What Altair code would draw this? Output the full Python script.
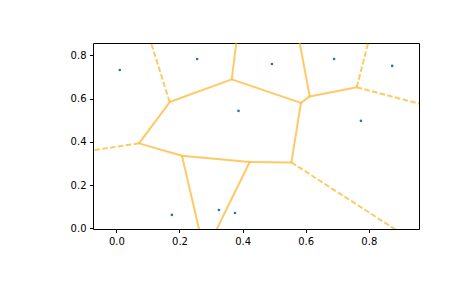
import altair as alt
import pandas as pd

# input points
px = [0.011, 0.256, 0.387, 0.176, 0.325, 0.376, 0.493, 0.690, 0.874, 0.775]
py = [0.732, 0.783, 0.543, 0.062, 0.085, 0.071, 0.760, 0.783, 0.751, 0.497]

# Voronoi vertices (J and K lie outside the view)
vname = ["A", "B", "C", "D", "E", "F", "G", "H", "I", "J", "K"]
vx = [0.169, 0.0717, 0.208, 0.3655, 0.4225, 0.5547, 0.585, 0.6127, 0.7617, 0.280, 0.461]
vy = [0.584, 0.393, 0.336, 0.689, 0.307, 0.305, 0.580, 0.610, 0.652, -0.117, 1.795]

# finite ridges
finite_edges = [("A", "B"), ("A", "D"), ("B", "C"), ("C", "E"), ("D", "G"),
                ("E", "F"), ("F", "G"), ("G", "H"), ("H", "I"), ("C", "J"),
                ("E", "J"), ("D", "K"), ("H", "K")]

# infinite ridges: start vertex and far end point
inf_start = ["A", "B", "I", "I", "F"]
inf_end_x = [0.051, -0.220, 0.834, 1.156, 1.209]
inf_end_y = [1.130, 0.329, 1.062, 0.502, -0.311]

vpos = {n: (x, y) for n, x, y in zip(vname, vx, vy)}
rows = []
for a, b in finite_edges:
    rows.append(dict(x=vpos[a][0], y=vpos[a][1], x2=vpos[b][0], y2=vpos[b][1], kind="solid"))
for s, ex, ey in zip(inf_start, inf_end_x, inf_end_y):
    rows.append(dict(x=vpos[s][0], y=vpos[s][1], x2=ex, y2=ey, kind="dashed"))
edges = pd.DataFrame(rows)
pts = pd.DataFrame({"x": px, "y": py})

xs = alt.Scale(domain=[-0.074, 0.959], nice=False, zero=False)
ys = alt.Scale(domain=[-0.003, 0.857], nice=False, zero=False)
ticks = [0.0, 0.2, 0.4, 0.6, 0.8]
xa = alt.Axis(values=ticks, format=".1f", title=None, grid=False)
ya = alt.Axis(values=ticks, format=".1f", title=None, grid=False)

points = alt.Chart(pts).mark_point(filled=True, size=7, color="#1f77b4", opacity=1).encode(
    x=alt.X("x:Q", scale=xs, axis=xa), y=alt.Y("y:Q", scale=ys, axis=ya))

solid = alt.Chart(edges[edges.kind == "solid"]).mark_rule(
    color="orange", opacity=0.6, strokeWidth=2, clip=True).encode(
    x=alt.X("x:Q", scale=xs), y=alt.Y("y:Q", scale=ys), x2="x2:Q", y2="y2:Q")

dashed = alt.Chart(edges[edges.kind == "dashed"]).mark_rule(
    color="orange", opacity=0.6, strokeWidth=2, strokeDash=[5.5, 2.4], clip=True).encode(
    x=alt.X("x:Q", scale=xs), y=alt.Y("y:Q", scale=ys), x2="x2:Q", y2="y2:Q")

chart = alt.layer(points, solid, dashed).properties(
    width=326, height=186,
    background="white",
    autosize=alt.AutoSizeParams(type="none"),
    padding={"left": 93, "top": 43, "right": 46, "bottom": 59},
).configure_view(stroke="black", strokeWidth=1).configure_axis(
    domain=False, tickColor="black", tickSize=3.5, tickWidth=1,
    labelColor="black", labelFont="DejaVu Sans", labelFontSize=10, labelPadding=3.5,
)

chart.save("out.html", embed_options={"renderer": "svg", "actions": False})
